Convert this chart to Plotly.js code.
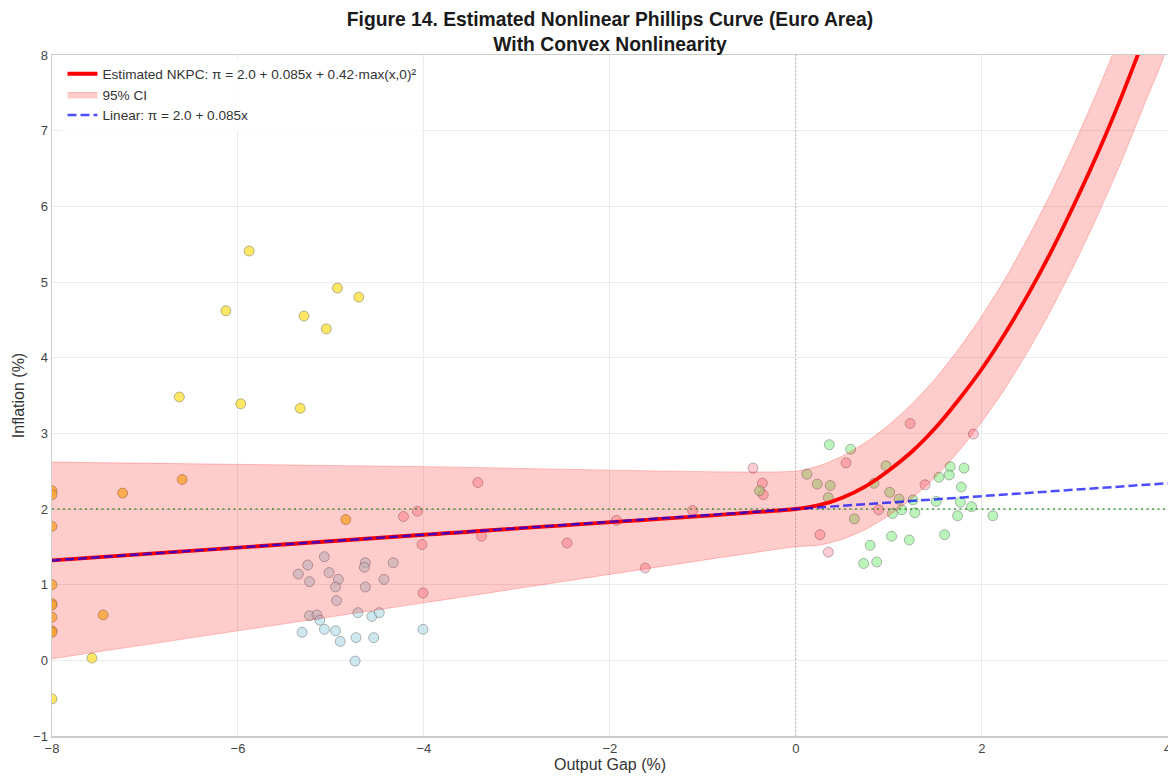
<!DOCTYPE html>
<html>
<head>
<meta charset="utf-8">
<script src="https://cdn.plot.ly/plotly-3.0.1.min.js"></script>
<style>html,body{margin:0;padding:0;background:#fff;}#chart{width:1168px;height:776px;}</style>
</head>
<body>
<div id="chart"></div>
<script>
// ---- Data ----
// Observation groups (output gap %, inflation %)
const yellowX = [-5.88, -6.13, -4.93, -4.70, -5.29, -5.05, -6.63, -5.97, -5.33, -7.57, -8.00];
const yellowY = [5.41, 4.62, 4.92, 4.80, 4.55, 4.38, 3.48, 3.39, 3.33, 0.03, -0.51];

const orangeX = [-6.60, -7.24, -7.45, -4.84, -8.00, -8.00, -8.00, -8.00, -8.00, -8.00, -8.00, -8.00, -8.00];
const orangeY = [2.39, 2.21, 0.60, 1.86, 2.24, 2.19, 1.77, 1.00, 0.75, 0.73, 0.57, 0.39, 0.37];

const blueX = [-5.35, -5.25, -5.23, -5.07, -5.02, -4.92, -4.95, -4.94, -4.63, -4.64, -4.63, -4.43, -4.33, -5.23, -5.15, -4.71,
               -5.12, -5.31, -5.07, -4.95, -4.90, -4.73, -4.74, -4.56, -4.48, -4.54, -4.01];
const blueY = [1.14, 1.26, 1.04, 1.37, 1.16, 1.07, 0.97, 0.79, 1.29, 1.23, 0.97, 1.07, 1.29, 0.59, 0.60, 0.63,
               0.53, 0.37, 0.41, 0.39, 0.25, 0.30, -0.01, 0.58, 0.63, 0.30, 0.41];

const pinkX = [-4.22, -4.07, -4.02, -4.01, -3.42, -3.38, -2.46, -1.93, -1.62, -1.11, -0.46, -0.36, -0.35,
               0.54, 0.89, 1.23, 1.91, 1.39, 0.26, 0.35];
const pinkY = [1.90, 1.97, 1.53, 0.89, 2.35, 1.64, 1.55, 1.85, 1.22, 1.98, 2.54, 2.34, 2.19,
               2.61, 1.99, 3.13, 2.99, 2.32, 1.66, 1.43];

const greenX = [-0.39, 0.12, 0.23, 0.37, 0.35, 0.97, 0.84, 1.01, 1.11, 0.63, 1.04,
                0.36, 0.59, 1.14, 1.26, 1.28, 1.54, 1.66, 1.65, 1.81, 1.78, 1.51, 1.77, 1.89, 1.74, 2.12, 1.60,
                0.80, 1.03, 1.22, 0.73, 0.87];
const greenY = [2.24, 2.46, 2.33, 2.31, 2.15, 2.57, 2.34, 2.22, 2.13, 1.87, 1.94,
                2.85, 2.79, 1.99, 2.12, 1.95, 2.42, 2.56, 2.45, 2.54, 2.29, 2.10, 2.09, 2.03, 1.91, 1.91, 1.66,
                1.52, 1.64, 1.59, 1.28, 1.30];

// Estimated NKPC curve and 95% CI
const curveX     = [-8, -4, 0, 0.25, 0.5, 0.75, 1.0, 1.25, 1.5, 1.75, 2.0, 2.25, 2.5, 2.75, 3.0, 3.25, 3.5, 3.75, 4.0];
const curveY     = [1.32, 1.66, 2.00, 2.05, 2.15, 2.30, 2.51, 2.76, 3.07, 3.44, 3.85, 4.32, 4.84, 5.41, 6.04, 6.71, 7.44, 8.23, 9.06];
const ciUpper    = [2.62, 2.56, 2.50, 2.57, 2.70, 2.88, 3.11, 3.39, 3.72, 4.11, 4.55, 5.04, 5.59, 6.19, 6.84, 7.54, 8.29, 9.10, 9.96];
const ciLower    = [0.02, 0.76, 1.50, 1.52, 1.60, 1.73, 1.91, 2.14, 2.42, 2.76, 3.15, 3.59, 4.09, 4.64, 5.24, 5.89, 6.59, 7.35, 8.16];

// Linear Phillips curve
const linearX = [-8, 4];
const linearY = [1.32, 2.34];

// Reference lines
const targetInflation = 2.0;
const zeroGap = 0;

// Axis ticks
const xTicks = [-8, -6, -4, -2, 0, 2, 4];
const yTicks = [-1, 0, 1, 2, 3, 4, 5, 6, 7, 8];

// ---- Plot ----
const edge = {color: 'rgba(90,90,90,0.55)', width: 0.8};
function pts(x, y, fill) {
  return {x: x, y: y, type: 'scatter', mode: 'markers', showlegend: false, hoverinfo: 'skip',
          marker: {size: 10, color: fill, line: edge}};
}

const bandX = curveX.concat(curveX.slice().reverse());
const bandY = ciUpper.concat(ciLower.slice().reverse());

const traces = [
  pts(yellowX, yellowY, 'rgba(255,215,0,0.6)'),
  pts(orangeX, orangeY, 'rgba(250,205,60,0.8)'),
  pts(blueX, blueY, 'rgba(173,216,230,0.6)'),
  pts(pinkX, pinkY, 'rgba(255,182,193,0.7)'),
  pts(greenX, greenY, 'rgba(144,238,144,0.6)'),
  {x: bandX, y: bandY, type: 'scatter', mode: 'lines', fill: 'toself',
   fillcolor: 'rgba(255,0,0,0.2)', line: {color: 'rgba(255,0,0,0.22)', width: 1, shape: 'spline', smoothing: 0.6},
   name: '95% CI', legendrank: 2, hoverinfo: 'skip'},
  {x: [-8, 4], y: [targetInflation, targetInflation], type: 'scatter', mode: 'lines', showlegend: false,
   line: {color: 'rgba(0,128,0,0.75)', width: 1.6, dash: '2px,3.5px'}, hoverinfo: 'skip'},
  {x: [zeroGap, zeroGap], y: [-1, 8], type: 'scatter', mode: 'lines', showlegend: false,
   line: {color: 'rgba(128,128,128,0.6)', width: 1, dash: '1.5px,2.5px'}, hoverinfo: 'skip'},
  {x: curveX, y: curveY, type: 'scatter', mode: 'lines',
   line: {color: 'red', width: 3.8, shape: 'spline', smoothing: 0.6},
   name: 'Estimated NKPC: π = 2.0 + 0.085x + 0.42·max(x,0)²', legendrank: 1},
  {x: linearX, y: linearY, type: 'scatter', mode: 'lines',
   line: {color: 'rgba(0,0,255,0.7)', width: 2.5, dash: '9px,4px'},
   name: 'Linear: π = 2.0 + 0.085x', legendrank: 3}
];

const fontFam = '"Liberation Sans", Arial, sans-serif';
const layout = {
  width: 1168, height: 776,
  margin: {l: 52, r: 0, t: 55, b: 40},
  paper_bgcolor: '#ffffff', plot_bgcolor: '#ffffff',
  font: {family: fontFam, color: '#333'},
  title: {text: '<b>Figure 14. Estimated Nonlinear Phillips Curve (Euro Area)<br>With Convex Nonlinearity</b>',
          x: 0.5, xref: 'paper', xanchor: 'center', y: 0.966, yref: 'container', yanchor: 'top',
          font: {family: fontFam, size: 19.3, color: '#1a1a1a'}},
  xaxis: {range: [-8, 4.003], tickvals: xTicks, ticks: '', showgrid: true, gridcolor: '#ebebeb', gridwidth: 1,
          zeroline: false, showline: true, linecolor: '#cccccc', linewidth: 1.5, mirror: true,
          ticklabeloverflow: 'allow',
          tickfont: {size: 13, color: '#444'},
          title: {text: 'Output Gap (%)', font: {size: 16, color: '#333'}, standoff: 3}},
  yaxis: {range: [-1, 8], tickvals: yTicks, ticks: '', showgrid: true, gridcolor: '#ebebeb', gridwidth: 1,
          zeroline: false, showline: true, linecolor: '#cccccc', linewidth: 1.5, mirror: true,
          tickfont: {size: 13, color: '#444'},
          title: {text: 'Inflation (%)', font: {size: 16, color: '#333'}, standoff: 4}},
  legend: {x: 0.0094, y: 0.995, xanchor: 'left', yanchor: 'top', bgcolor: 'rgba(255,255,255,0.85)',
           borderwidth: 0, font: {size: 13.6, color: '#333'}, tracegroupgap: 0},
  showlegend: true
};

Plotly.newPlot('chart', traces, layout, {displayModeBar: false, staticPlot: true});
</script>
</body>
</html>
